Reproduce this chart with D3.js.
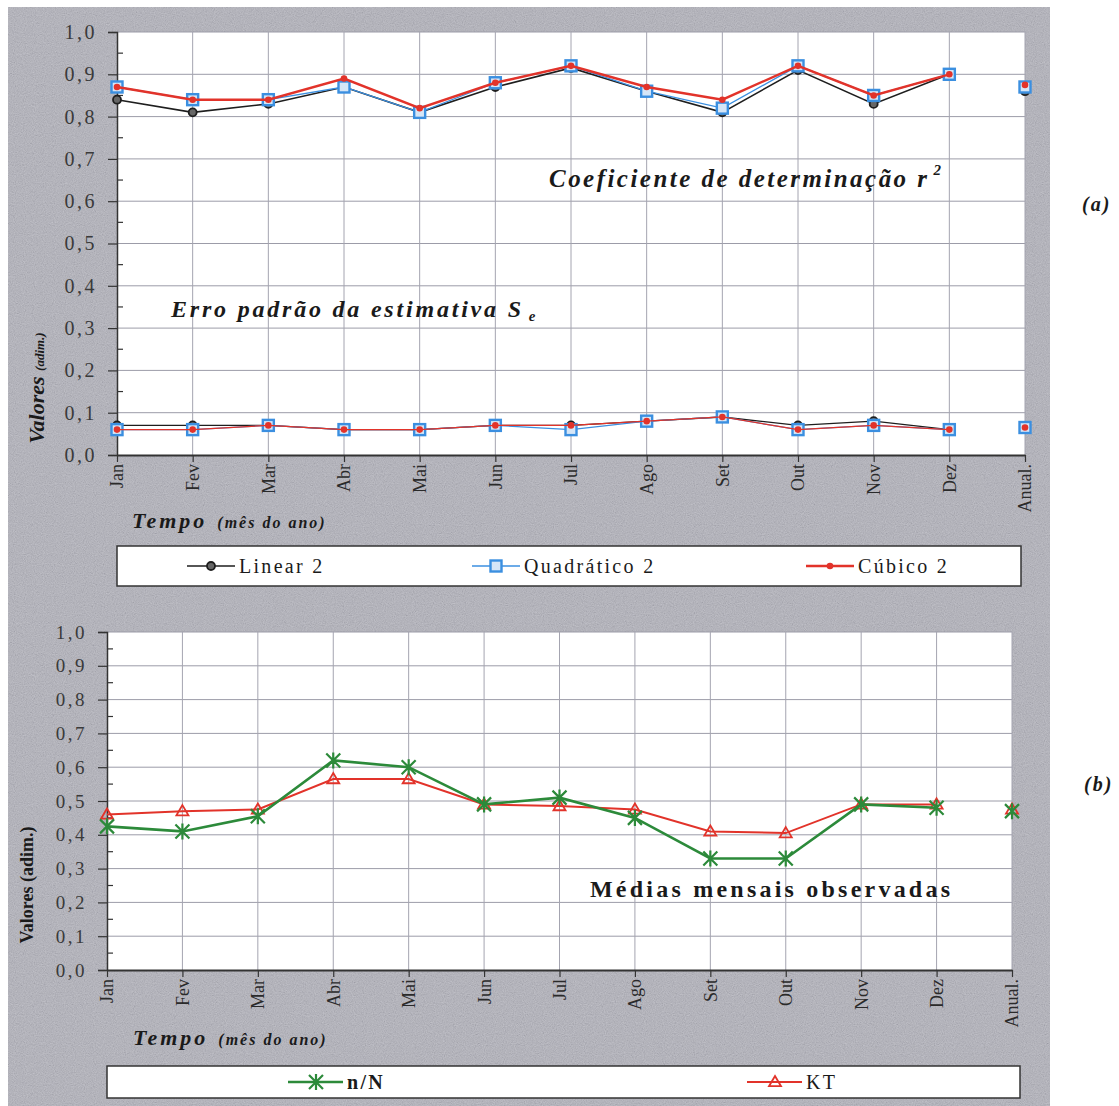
<!DOCTYPE html>
<html>
<head>
<meta charset="utf-8">
<script src="https://cdn.jsdelivr.net/npm/d3@7"></script>
<style>
  body { margin: 0; background: #fff; }
  svg { display: block; }
  svg text { font-family: 'Liberation Serif', 'DejaVu Serif', serif !important; fill: #1a1a1a; }
</style>
</head>
<body>
<svg id="chart" width="1119" height="1106"></svg>
<script>
// categories
const months = ['Jan', 'Fev', 'Mar', 'Abr', 'Mai', 'Jun', 'Jul', 'Ago', 'Set', 'Out', 'Nov', 'Dez', 'Anual.'];
const yTicks = [0, 0.1, 0.2, 0.3, 0.4, 0.5, 0.6, 0.7, 0.8, 0.9, 1.0];

// (a) coeficiente de determinação r²
const r2Linear = [0.84, 0.81, 0.83, 0.87, 0.81, 0.87, 0.915, 0.86, 0.81, 0.91, 0.83, 0.90, 0.86];
const r2Quad   = [0.87, 0.84, 0.84, 0.87, 0.81, 0.88, 0.92, 0.86, 0.82, 0.92, 0.85, 0.90, 0.87];
const r2Cub    = [0.87, 0.84, 0.84, 0.89, 0.82, 0.88, 0.92, 0.87, 0.84, 0.92, 0.85, 0.90, 0.875];

// (a) erro padrão da estimativa Se
const seLinear = [0.07, 0.07, 0.07, 0.06, 0.06, 0.07, 0.07, 0.08, 0.09, 0.07, 0.08, 0.06, 0.065];
const seQuad   = [0.06, 0.06, 0.07, 0.06, 0.06, 0.07, 0.06, 0.08, 0.09, 0.06, 0.07, 0.06, 0.065];
const seCub    = [0.06, 0.06, 0.07, 0.06, 0.06, 0.07, 0.07, 0.08, 0.09, 0.06, 0.07, 0.06, 0.065];

// (b) médias mensais observadas
const nN = [0.425, 0.41, 0.455, 0.62, 0.60, 0.49, 0.51, 0.45, 0.33, 0.33, 0.49, 0.48, 0.47];
const kt = [0.46, 0.47, 0.475, 0.565, 0.565, 0.49, 0.485, 0.475, 0.41, 0.405, 0.49, 0.49, 0.475];

const svg = d3.select('#chart');
const fmt = d => d3.format('.1f')(d).replace('.', ',');

// grainy gray background like the scanned page
const defs = svg.append('defs');
const filt = defs.append('filter').attr('id', 'grain').attr('x', 0).attr('y', 0).attr('width', '100%').attr('height', '100%');
filt.append('feTurbulence').attr('type', 'fractalNoise').attr('baseFrequency', 0.9).attr('numOctaves', 2).attr('seed', 4);
filt.append('feColorMatrix').attr('type', 'matrix')
    .attr('values', '0.33 0.33 0.33 0 0  0.33 0.33 0.33 0 0  0.33 0.33 0.33 0 0.04  0 0 0 0 1');

svg.append('rect').attr('x', 8).attr('y', 7).attr('width', 1042).attr('height', 1099).attr('fill', '#b0b0b8');
svg.append('rect').attr('x', 8).attr('y', 7).attr('width', 1042).attr('height', 1099)
    .attr('filter', 'url(#grain)').attr('opacity', 0.35);

const colors = { black: '#1e1e1e', blue: '#3b8fe0', red: '#e2332a', green: '#2c8a3a' };

// marker helpers
function markCircle(g, x, y) {
    g.append('circle').attr('cx', x).attr('cy', y).attr('r', 4)
        .attr('fill', '#666').attr('stroke', colors.black).attr('stroke-width', 1.8);
}
function markSquare(g, x, y) {
    g.append('rect').attr('x', x - 5.5).attr('y', y - 5.5).attr('width', 11).attr('height', 11)
        .attr('fill', '#d6e6f7').attr('stroke', colors.blue).attr('stroke-width', 2.4);
}
function markDot(g, x, y) {
    g.append('circle').attr('cx', x).attr('cy', y).attr('r', 3.3).attr('fill', colors.red);
}
function markStar(g, x, y) {
    const s = 7;
    const p = `M${x - s},${y - s}L${x + s},${y + s}M${x - s},${y + s}L${x + s},${y - s}M${x},${y - s - 1}L${x},${y + s + 1}`;
    g.append('path').attr('d', p).attr('stroke', colors.green).attr('stroke-width', 2.2).attr('fill', 'none');
}
function markTri(g, x, y) {
    const s = 6;
    g.append('path').attr('d', `M${x},${y - s}L${x + s},${y + s * 0.7}L${x - s},${y + s * 0.7}Z`)
        .attr('fill', 'none').attr('stroke', colors.red).attr('stroke-width', 1.8);
}

function drawPanel(p) {
    const x = d3.scalePoint().domain(months).range([p.x0, p.x1]);
    const y = d3.scaleLinear().domain([0, 1]).range([p.y0, p.y1]);
    const g = svg.append('g');

    // plot area
    g.append('rect').attr('x', p.x0).attr('y', p.y1).attr('width', p.x1 - p.x0).attr('height', p.y0 - p.y1).attr('fill', '#fff');

    // grid
    g.append('g').selectAll('line').data(yTicks.slice(1)).join('line')
        .attr('x1', p.x0).attr('x2', p.x1).attr('y1', d => y(d)).attr('y2', d => y(d))
        .attr('stroke', '#9c9ca8').attr('stroke-width', 1);
    g.append('g').selectAll('line').data(months.slice(1)).join('line')
        .attr('x1', d => x(d)).attr('x2', d => x(d)).attr('y1', p.y1).attr('y2', p.y0)
        .attr('stroke', '#a4a4b0').attr('stroke-width', 1);

    // y axis with minor ticks inside
    const ya = g.append('g').attr('transform', `translate(${p.x0},0)`)
        .call(d3.axisLeft(y).tickValues(yTicks).tickFormat(fmt).tickSize(9).tickPadding(11));
    ya.select('.domain').attr('stroke', '#333').attr('stroke-width', 1.5);
    ya.selectAll('.tick line').attr('stroke', '#333').attr('stroke-width', 1.2);
    ya.selectAll('text').attr('font-size', p.tickFont).attr('letter-spacing', '2.5px').style('fill', '#3a3a3a');
    g.append('g').selectAll('line').data(d3.range(0.05, 1, 0.1)).join('line')
        .attr('x1', p.x0).attr('x2', p.x0 + 6).attr('y1', d => y(d)).attr('y2', d => y(d))
        .attr('stroke', '#333').attr('stroke-width', 1.2);

    // x axis
    const xa = g.append('g').attr('transform', `translate(0,${p.y0})`)
        .call(d3.axisBottom(x).tickSize(7).tickSizeOuter(0));
    xa.select('.domain').attr('stroke', '#333').attr('stroke-width', 2);
    xa.selectAll('.tick line').attr('stroke', '#333').attr('stroke-width', 1.2);
    xa.selectAll('text')
        .attr('transform', 'rotate(-90)')
        .attr('text-anchor', 'end')
        .attr('x', -9).attr('y', 0).attr('dy', '0.33em')
        .attr('font-size', 18).style('fill', '#2a2a2a');

    return { g, x, y };
}

function series(ctx, vals, color, width, marker) {
    const monthly = vals.slice(0, 12).map((v, i) => [months[i], v]);
    const line = d3.line().x(d => ctx.x(d[0])).y(d => ctx.y(d[1]));
    ctx.g.append('path').datum(monthly).attr('d', line)
        .attr('fill', 'none').attr('stroke', color).attr('stroke-width', width);
    vals.forEach((v, i) => marker(ctx.g, ctx.x(months[i]), ctx.y(v)));
}

// ---------- panel (a) ----------
const a = drawPanel({ x0: 117, x1: 1025, y0: 455, y1: 32, tickFont: 20 });
series(a, r2Linear, colors.black, 1.6, markCircle);
series(a, r2Quad, colors.blue, 1.3, markSquare);
series(a, r2Cub, colors.red, 2.4, markDot);
series(a, seLinear, colors.black, 1.4, markCircle);
series(a, seQuad, colors.blue, 1.2, markSquare);
series(a, seCub, colors.red, 1.2, markDot);

const t1 = svg.append('text').attr('x', 549).attr('y', 187)
    .attr('font-size', 25).attr('font-weight', 'bold').attr('font-style', 'italic');
t1.append('tspan').text('Coeficiente de determinação r').attr('textLength', 378).attr('lengthAdjust', 'spacing');
t1.append('tspan').text('2').attr('font-size', 15).attr('dy', -12).attr('dx', 4);

const t2 = svg.append('text').attr('x', 171).attr('y', 317)
    .attr('font-size', 24).attr('font-weight', 'bold').attr('font-style', 'italic');
t2.append('tspan').text('Erro padrão da estimativa S').attr('textLength', 350).attr('lengthAdjust', 'spacing');
t2.append('tspan').text('e').attr('font-size', 15).attr('dy', 4).attr('dx', 5);

svg.append('text').attr('x', 1082).attr('y', 211)
    .attr('font-size', 20).attr('font-weight', 'bold').attr('font-style', 'italic').attr('letter-spacing', '2px')
    .text('(a)');

const yl1 = svg.append('text').attr('transform', 'translate(44,388) rotate(-90)').attr('text-anchor', 'middle')
    .attr('font-weight', 'bold').attr('font-style', 'italic');
yl1.append('tspan').text('Valores ').attr('font-size', 22);
yl1.append('tspan').text('(adim.)').attr('font-size', 13);

const xl1 = svg.append('text').attr('x', 132).attr('y', 528).attr('font-weight', 'bold').attr('font-style', 'italic');
xl1.append('tspan').text('Tempo').attr('font-size', 22).attr('letter-spacing', '3px');
xl1.append('tspan').text('(mês do ano)').attr('font-size', 16).attr('letter-spacing', '2px').attr('dx', 10);

// legend (a)
const lg1 = svg.append('g');
lg1.append('rect').attr('x', 117).attr('y', 546).attr('width', 904).attr('height', 40)
    .attr('fill', '#fff').attr('stroke', '#333').attr('stroke-width', 1.5);
const legA = [
    { name: 'Linear 2', color: colors.black, w: 1.6, mark: markCircle, x: 187 },
    { name: 'Quadrático 2', color: colors.blue, w: 1.3, mark: markSquare, x: 472 },
    { name: 'Cúbico 2', color: colors.red, w: 2.4, mark: markDot, x: 806 }
];
legA.forEach(d => {
    lg1.append('line').attr('x1', d.x).attr('x2', d.x + 48).attr('y1', 566).attr('y2', 566)
        .attr('stroke', d.color).attr('stroke-width', d.w);
    d.mark(lg1, d.x + 24, 566);
    lg1.append('text').attr('x', d.x + 52).attr('y', 573).attr('font-size', 20).attr('letter-spacing', '2.3px').text(d.name);
});

// ---------- panel (b) ----------
const b = drawPanel({ x0: 107, x1: 1012, y0: 970, y1: 632, tickFont: 19 });
series(b, kt, colors.red, 2, markTri);
series(b, nN, colors.green, 2.6, markStar);

svg.append('text').attr('x', 590).attr('y', 897)
    .attr('font-size', 24).attr('font-weight', 'bold')
    .attr('textLength', 360).attr('lengthAdjust', 'spacing')
    .text('Médias mensais observadas');

svg.append('text').attr('x', 1084).attr('y', 791)
    .attr('font-size', 20).attr('font-weight', 'bold').attr('font-style', 'italic').attr('letter-spacing', '2px')
    .text('(b)');

svg.append('text').attr('transform', 'translate(33,885) rotate(-90)').attr('text-anchor', 'middle')
    .attr('font-weight', 'bold').attr('font-size', 18).text('Valores (adim.)');

const xl2 = svg.append('text').attr('x', 133).attr('y', 1045).attr('font-weight', 'bold').attr('font-style', 'italic');
xl2.append('tspan').text('Tempo').attr('font-size', 22).attr('letter-spacing', '3px');
xl2.append('tspan').text('(mês do ano)').attr('font-size', 16).attr('letter-spacing', '2px').attr('dx', 10);

// legend (b)
const lg2 = svg.append('g');
lg2.append('rect').attr('x', 107).attr('y', 1066).attr('width', 913).attr('height', 32)
    .attr('fill', '#fff').attr('stroke', '#333').attr('stroke-width', 1.5);
const legB = [
    { name: 'n/N', color: colors.green, w: 2.6, mark: markStar, x: 288, bold: true },
    { name: 'KT', color: colors.red, w: 2, mark: markTri, x: 747, bold: false }
];
legB.forEach(d => {
    lg2.append('line').attr('x1', d.x).attr('x2', d.x + 55).attr('y1', 1082).attr('y2', 1082)
        .attr('stroke', d.color).attr('stroke-width', d.w);
    d.mark(lg2, d.x + 28, 1082);
    lg2.append('text').attr('x', d.x + 59).attr('y', 1089).attr('font-size', 20)
        .attr('font-weight', d.bold ? 'bold' : 'normal').attr('letter-spacing', '2.3px').text(d.name);
});
</script>
</body>
</html>
